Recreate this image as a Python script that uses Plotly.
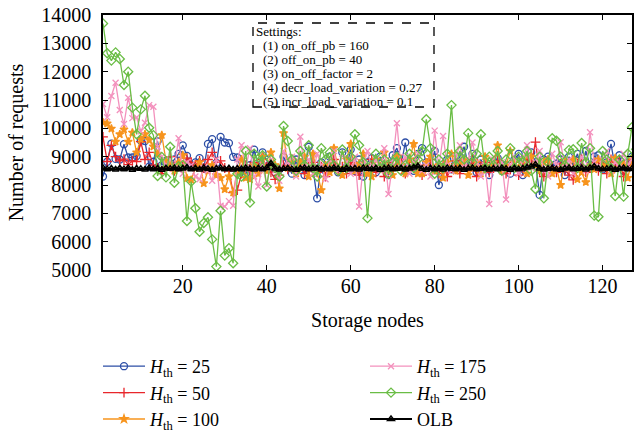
import plotly.graph_objects as go

nodes = list(range(1, 129))

h25 = [8300, 8820, 9460, 8920, 8900, 9440, 8970, 8970, 9020, 9570, 9550, 8650, 8820, 9540, 8700, 8850,
       8760, 8900, 9100, 9400, 9030, 8700, 8800, 8950, 8580, 9450, 9620, 8780, 9700, 9500, 9480, 8990,
       8970, 8500, 8400, 8700, 9250, 8650, 9150, 8900, 8600, 8450, 8550, 9000, 8700, 8400, 8900, 8800,
       8350, 9350, 8600, 7530, 8800, 8500, 9000, 8700, 8450, 9150, 8650, 9250, 8500, 8900, 8300, 8800,
       8950, 8450, 9000, 8600, 8350, 9050, 9300, 8700, 9500, 8600, 8500, 9100, 9300, 8800, 8650, 9200,
       8000, 8600, 8900, 8550, 8800, 9000, 9350, 8700, 9100, 8450, 8900, 8600, 8350, 8800, 8950, 8500,
       8700, 8400, 8900, 9100, 8350, 8700, 9150, 8800, 7650, 8900, 9000, 8600, 8750, 8900, 8350, 9000,
       8700, 9100, 8600, 9200, 8700, 9000, 9050, 8550, 8800, 9450, 8600, 9050, 8500, 8800, 9000, 8750]

h50 = [9700, 8830, 9400, 9000, 8850, 8910, 8720, 8850, 8830, 9530, 8900, 9150, 8700, 8600, 8400, 8650,
       9000, 8500, 8800, 8600, 8950, 8800, 8700, 8850, 8600, 8900, 9150, 8800, 8850, 8600, 8500, 7730,
       7820, 8400, 8700, 8500, 8800, 8600, 8900, 8650, 8450, 8200, 8350, 8700, 8550, 8900, 8500, 8700,
       8400, 8600, 8800, 8450, 8650, 8300, 8700, 8900, 8500, 8650, 8400, 8800, 8600, 8350, 8700, 8550,
       8900, 8450, 8650, 8300, 8800, 8550, 8700, 8900, 8400, 8650, 8800, 8500, 8350, 8700, 8900, 8550,
       8400, 8750, 8300, 8600, 8850, 8400, 8700, 8500, 8900, 8300, 8650, 8800, 8450, 8600, 8850, 8700,
       8400, 8550, 8800, 8350, 8600, 8900, 8700, 9510, 8500, 8300, 8800, 8600, 8450, 8750, 8550, 8350,
       8180, 8700, 8900, 8450, 8600, 8800, 8500, 8750, 8400, 8900, 8650, 8800, 8300, 8700, 8900, 8600]

h100 = [10210, 10170, 9990, 9530, 9790, 9960, 9530, 9850, 9150, 9610, 9790, 9590, 9360, 9100, 9760, 8850,
        8700, 8500, 8800, 9050, 8240, 8180, 8600, 8800, 8060, 8500, 8700, 8350, 8250, 7850, 8300, 7730,
        8500, 8900, 8250, 8200, 8700, 8400, 9000, 8500, 9150, 8700, 7880, 9830, 8600, 8900, 8400, 8800,
        9000, 8300, 9100, 8500, 7820, 8700, 8450, 9300, 8600, 8350, 8900, 9450, 8500, 8750, 9100, 8400,
        8300, 8900, 8650, 9150, 8500, 8350, 9000, 8700, 8400, 8900, 9450, 8400, 8400, 8800, 9000, 8500,
        8700, 8250, 8800, 9100, 8500, 8700, 8900, 8350, 8600, 8800, 8400, 9000, 8600, 8800, 9400, 8500,
        8700, 9200, 8800, 8600, 8900, 8400, 9000, 8700, 8500, 8800, 8900, 8400, 8600, 8000, 8850, 8600,
        8900, 8200, 8450, 8100, 8700, 8550, 8900, 8650, 8800, 8400, 8950, 8600, 8750, 8250, 8900, 8300]

h175 = [10860, 10390, 11140, 11610, 10650, 10150, 11080, 10360, 10380, 9900, 10200, 10820, 10760, 9360, 9000, 8700,
        8900, 8600, 9650, 8400, 8800, 8700, 8300, 8200, 8600, 8500, 8150, 8900, 7270, 7240, 7430, 7270,
        8900, 9400, 8600, 9300, 8300, 7950, 8700, 8000, 8900, 8500, 8150, 9200, 8700, 9000, 8300, 9700,
        8600, 8900, 8400, 9100, 8700, 8200, 8900, 9200, 8500, 9100, 8800, 8400, 9000, 7240, 8700, 9200,
        8600, 8900, 8500, 9300, 7680, 8800, 10180, 8600, 9000, 8400, 8800, 9100, 8500, 8700, 8300, 9920,
        8600, 9730, 8700, 8500, 9000, 9400, 8600, 8900, 9500, 8800, 8300, 8700, 7330, 8900, 8600, 8800,
        7490, 8700, 9000, 8400, 8900, 9400, 8600, 8800, 9200, 8500, 8300, 9100, 8700, 9510, 8600, 8900,
        8400, 8700, 9000, 8500, 9860, 8800, 8600, 8900, 9200, 8500, 8800, 8600, 9100, 8700, 8900, 9200]

h250 = [13700, 12650, 12390, 12680, 12450, 11530, 12000, 10730, 9790, 10670, 11150, 10020, 9760, 8320, 8990, 8270,
        9350, 8080, 8660, 8700, 6730, 8120, 7180, 6350, 6660, 6860, 6080, 5120, 7090, 5510, 5770, 5240,
        8400, 8300, 9200, 7380, 9100, 8800, 9050, 7950, 8900, 8600, 8300, 10080, 9550, 8900, 8500, 9200,
        8700, 9400, 8600, 8300, 9300, 8900, 9150, 8700, 8500, 9250, 8600, 9000, 9790, 9400, 8800, 6830,
        8700, 9100, 8600, 8900, 8400, 8800, 9000, 8500, 8700, 9100, 8600, 8900, 9200, 10320, 9300, 8400,
        8900, 8600, 9100, 10820, 8700, 9200, 8900, 9830, 8800, 9100, 9790, 8600, 9000, 8700, 9200, 8500,
        8900, 9300, 8600, 9000, 8800, 9200, 8500, 7860, 9000, 7530, 8800, 9650, 9560, 9000, 8700, 9240,
        9260, 8600, 9480, 8800, 9300, 6920, 6880, 9200, 8900, 8600, 7610, 8900, 7590, 9100, 10040, 9260]

olb = [8600, 8560, 8580, 8550, 8590, 8560, 8600, 8540, 8580, 8570, 8550, 8600, 8560, 8580, 8540, 8590,
       8570, 8600, 8560, 8580, 8620, 8560, 8590, 8550, 8600, 8570, 8540, 8580, 8600, 8560, 8590, 8550,
       8580, 8560, 8600, 8570, 8550, 8590, 8560, 8600, 8760, 8580, 8550, 8570, 8590, 8560, 8540, 8580,
       8600, 8560, 8570, 8590, 8550, 8580, 8560, 8600, 8570, 8540, 8590, 8560, 8580, 8550, 8600, 8570,
       8560, 8590, 8540, 8580, 8600, 8560, 8570, 8590, 8550, 8580, 8620, 8660, 8570, 8540, 8590, 8560,
       8580, 8550, 8600, 8570, 8560, 8590, 8540, 8580, 8600, 8560, 8570, 8590, 8550, 8580, 8560, 8600,
       8570, 8540, 8590, 8560, 8580, 8620, 8650, 8720, 8580, 8550, 8570, 8590, 8560, 8540, 8580, 8600,
       8560, 8570, 8590, 8550, 8600, 8650, 8580, 8560, 8570, 8590, 8540, 8580, 8600, 8560, 8570, 8580]

names = ["<i>H</i><sub>th</sub> = 25", "<i>H</i><sub>th</sub> = 50", "<i>H</i><sub>th</sub> = 100",
         "<i>H</i><sub>th</sub> = 175", "<i>H</i><sub>th</sub> = 250", "OLB"]

settings_lines = ["Settings:", "(1) on_off_pb = 160", "(2) off_on_pb = 40", "(3) on_off_factor = 2",
                  "(4) decr_load_variation = 0.27", "(5) incr_load_variation = 0.1"]

x_ticks = [20, 40, 60, 80, 100, 120]

FONT = "Liberation Serif"
styles = [
    dict(color="#2c4ea6", symbol="circle-open", size=7, legend="legend"),
    dict(color="#e8262b", symbol="cross-thin-open", size=7, legend="legend"),
    dict(color="#f7941d", symbol="star", size=6, legend="legend"),
    dict(color="#f391bd", symbol="x-thin-open", size=6, legend="legend2"),
    dict(color="#6abd45", symbol="diamond-open", size=7, legend="legend2"),
    dict(color="#000000", symbol="triangle-up-open", size=6, legend="legend2"),
]
series = [h25, h50, h100, h175, h250, olb]

fig = go.Figure()
for s, nm, st in zip(series, names, styles):
    is_olb = nm == "OLB"
    fig.add_trace(go.Scatter(
        x=nodes, y=s, name=nm, mode="lines+markers", legend=st["legend"],
        line=dict(color=st["color"], width=2.2 if is_olb else 1.3),
        marker=dict(symbol=st["symbol"], size=st["size"], color=st["color"],
                    line=dict(color=st["color"], width=1.5 if is_olb else 1.3)),
    ))

axis_common = dict(showline=True, linecolor="black", linewidth=1.5, mirror="ticks",
                   ticks="inside", ticklen=5, tickwidth=1, tickcolor="black",
                   showgrid=False, zeroline=False,
                   tickfont=dict(family=FONT, size=20, color="black"))

fig.update_xaxes(range=[1, 127], tickvals=x_ticks, ticklabelstandoff=-3,
                 title=dict(text="Storage nodes", font=dict(family=FONT, size=20, color="black"), standoff=17),
                 **axis_common)
fig.update_yaxes(range=[5000, 14000], dtick=1000, tickformat="d", ticklabelstandoff=6,
                 title=dict(text="Number of requests", font=dict(family=FONT, size=20, color="black"), standoff=12),
                 **axis_common)

W, H = 634, 432
L, R, T, B = 103, 2, 15, 162
pw, ph = W - L - R, H - T - B

def px_to_paper_x(px):
    return (px - L) / pw

def px_to_paper_y(py):
    return 1 - (py - T) / ph

fig.add_shape(type="rect", xref="paper", yref="paper",
              x0=px_to_paper_x(253), x1=px_to_paper_x(434),
              y0=px_to_paper_y(107), y1=px_to_paper_y(23),
              line=dict(color="black", width=1.3, dash="dash"), fillcolor="white", layer="above")

line_y = [31, 45, 59, 73, 87, 101]
for i, (txt, yy) in enumerate(zip(settings_lines, line_y)):
    fig.add_annotation(text=txt, xref="paper", yref="paper",
                       x=px_to_paper_x(254 if i == 0 else 261), y=px_to_paper_y(yy),
                       xanchor="left", yanchor="middle", showarrow=False,
                       font=dict(family=FONT, size=13, color="black"))

legend_common = dict(font=dict(family=FONT, size=18, color="black"), bgcolor="rgba(0,0,0,0)",
                     xanchor="left", yanchor="top", orientation="v", tracegroupgap=0,
                     itemwidth=42)
fig.update_layout(
    width=W, height=H,
    margin=dict(l=L, r=R, t=T, b=B, autoexpand=False),
    paper_bgcolor="white", plot_bgcolor="white",
    font=dict(family=FONT, size=20, color="black"),
    legend=dict(x=px_to_paper_x(98), y=px_to_paper_y(348), **legend_common),
    legend2=dict(x=px_to_paper_x(365), y=px_to_paper_y(348), **legend_common),
)

fig.write_html("out.html")
